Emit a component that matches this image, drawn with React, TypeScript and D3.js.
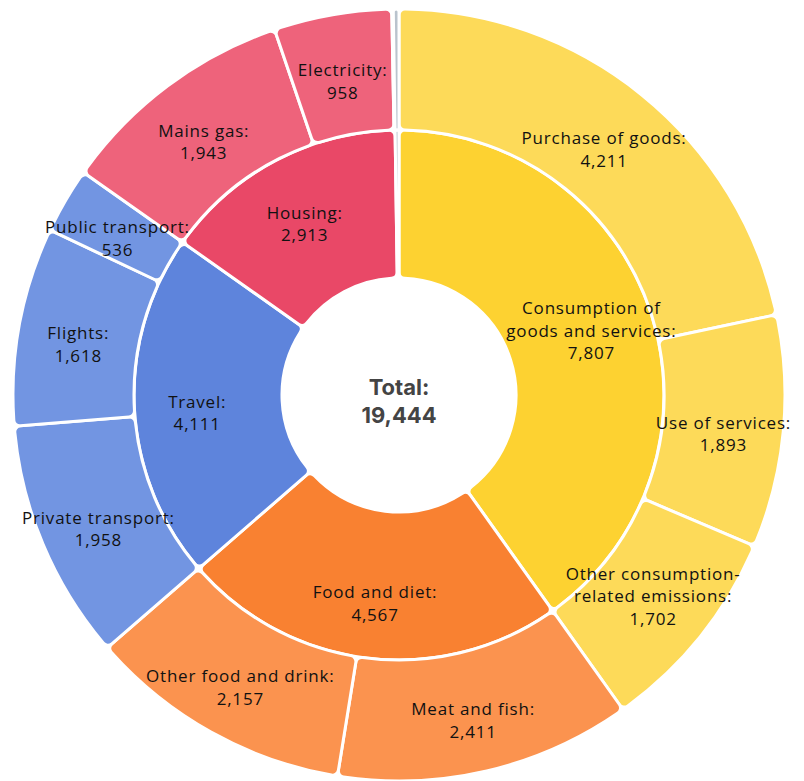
import React from "react";
import * as d3 from "d3";

const groupLabelLines = [["Consumption of", "goods and services:"], ["Food and diet:"], ["Travel:"], ["Housing:"], []];
const groupValues = [7807, 4567, 4111, 2913, 46];
const groupColors = ["#FDD231", "#F98131", "#5E84DC", "#E94867", "#B9C3CD"];
const childColors = ["#FDDA59", "#FB934F", "#7295E2", "#EE637B", "#B9C3CD"];

const itemLabelLines = [
  ["Purchase of goods:"], ["Use of services:"], ["Other consumption-", "related emissions:"],
  ["Meat and fish:"], ["Other food and drink:"],
  ["Private transport:"], ["Flights:"], ["Public transport:"],
  ["Mains gas:"], ["Electricity:"], [],
  [],
];
const itemValues = [4211, 1893, 1702, 2411, 2157, 1958, 1618, 536, 1943, 958, 12, 46];
const itemGroup = [0, 0, 0, 1, 1, 2, 2, 2, 3, 3, 3, 4];

const totalValue = 19444;

const W = 804, H = 781;
const cx = 399, cy = 395;
const r0 = 117, r1 = 265, r2 = 386;
const innerLabelR = 202, outerLabelR = 326;

export default function App() {
  const fmt = d3.format(",");
  const angle = d3.scaleLinear().domain([0, d3.sum(groupValues)]).range([0, 2 * Math.PI]);
  const starts = d3.cumsum([0, ...groupValues]);
  const groups = groupValues.map((v, i) => ({
    i, v, start: angle(starts[i]), end: angle(starts[i] + v),
  }));
  const items: any[] = [];
  groups.forEach((g) => {
    const idx = itemGroup.map((p, j) => (p === g.i ? j : -1)).filter((j) => j >= 0);
    const sum = d3.sum(idx, (j) => itemValues[j]);
    const sub = d3.scaleLinear().domain([0, sum]).range([g.start, g.end]);
    let acc = 0;
    idx.forEach((j) => {
      items.push({ j, g: g.i, v: itemValues[j], start: sub(acc), end: sub(acc + itemValues[j]) });
      acc += itemValues[j];
    });
  });

  const innerArc = d3.arc<any>().innerRadius(r0).outerRadius(r1).cornerRadius(6);
  const outerArc = d3.arc<any>().innerRadius(r1).outerRadius(r2).cornerRadius(6);
  const innerLab = d3.arc<any>().innerRadius(innerLabelR).outerRadius(innerLabelR);
  const outerLab = d3.arc<any>().innerRadius(outerLabelR).outerRadius(outerLabelR);

  const lineH = 22.5;
  const renderLabel = (lines: string[], x: number, y: number, key: string) => {
    const n = lines.length;
    const y0 = y - 2 - (n - 2) * 22;
    return (
      <text key={key} textAnchor="middle" fontFamily="'Open Sans', sans-serif" fontSize={17} letterSpacing={0.8} fill="#111">
        {lines.map((l, k) => (
          <tspan key={k} x={x} y={y0 + k * lineH} dominantBaseline="middle">{l}</tspan>
        ))}
      </text>
    );
  };

  return (
    <svg width={W} height={H} style={{ position: "absolute", left: 0, top: 0 }}>
      <g transform={`translate(${cx},${cy})`}>
        {groups.map((g) => (
          <path key={"g" + g.i} d={innerArc({ startAngle: g.start, endAngle: g.end }) || ""}
            fill={groupColors[g.i]} stroke="#fff" strokeWidth={3} />
        ))}
        {items.map((it) => (
          <path key={"i" + it.j} d={outerArc({ startAngle: it.start, endAngle: it.end }) || ""}
            fill={childColors[it.g]} stroke="#fff" strokeWidth={3} />
        ))}
        {groups.filter((g) => groupLabelLines[g.i].length).map((g) => {
          const [x, y] = innerLab.centroid({ startAngle: g.start, endAngle: g.end });
          return renderLabel([...groupLabelLines[g.i], fmt(g.v)], x, y, "gl" + g.i);
        })}
        {items.filter((it) => itemLabelLines[it.j].length).map((it) => {
          const [x, y] = outerLab.centroid({ startAngle: it.start, endAngle: it.end });
          return renderLabel([...itemLabelLines[it.j], fmt(it.v)], x, y, "il" + it.j);
        })}
        <text textAnchor="middle" fontFamily="Inter, 'Open Sans', sans-serif" fontWeight={700} fontSize={22} fill="#444">
          <tspan x={0} y={-6} dominantBaseline="middle">Total:</tspan>
          <tspan x={0} y={22} dominantBaseline="middle">{fmt(totalValue)}</tspan>
        </text>
      </g>
    </svg>
  );
}
